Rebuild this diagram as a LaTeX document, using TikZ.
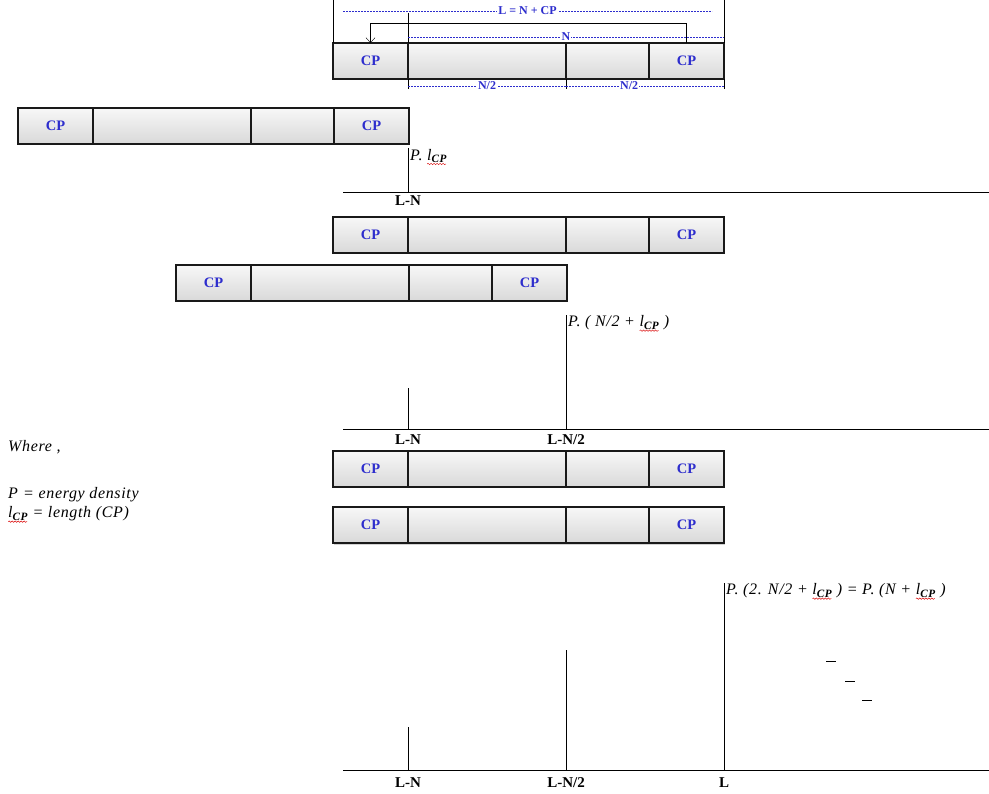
\documentclass[tikz,border=0pt]{standalone}
\usepackage{fontspec}
\setmainfont{Liberation Serif}
\usetikzlibrary{positioning,shadows,arrows.meta,decorations.pathmorphing}

\definecolor{cpblue}{RGB}{45,45,205}

% l_CP with the red wavy underline
\newcommand{\lcp}{\rlap{\tikz[overlay,baseline=0pt,x=1pt,y=1pt]\draw[squiggle] (0,-3.8) -- (19,-3.8);}\textit{l}\textsubscript{\bfseries\itshape CP}}

% one OFDM symbol: CP | N/2 part | rest | CP
\newcommand{\ofdmsym}[3]{%
  \node[cell, minimum width=75pt, anchor=north west] (#1a) at (#2,#3) {CP};
  \node[cell, minimum width=158pt, right=0pt of #1a] (#1b) {};
  \node[cell, minimum width=83pt, right=0pt of #1b] (#1c) {};
  \node[cell, minimum width=75pt, right=0pt of #1c] (#1d) {CP};
}

\tikzset{
  squiggle/.style={red!85!black, line width=0.45pt, decorate, decoration={snake, amplitude=0.7pt, segment length=3pt}},
  cell/.style={draw=black!90, line width=1.2pt, minimum height=36pt, inner sep=0pt, outer sep=0pt,
    top color=gray!6, bottom color=gray!30,
    drop shadow={shadow xshift=1pt, shadow yshift=-1.5pt, opacity=0.35},
    text=cpblue, font=\fontsize{14.5}{14.5}\selectfont\bfseries},
  axis/.style={line width=0.9pt},
  tick/.style={font=\fontsize{15}{15}\selectfont\bfseries, inner sep=1pt},
  power/.style={font=\fontsize{16}{16}\selectfont\itshape\addfontfeature{LetterSpace=4}, anchor=west, inner sep=1pt},
  dim/.style={cpblue, line width=0.8pt, dash pattern=on 2pt off 1pt},
  dimlabel/.style={text=cpblue, fill=white, inner sep=1pt, font=\fontsize{12}{12}\selectfont\bfseries},
  note/.style={font=\fontsize{16}{16}\selectfont\itshape\addfontfeature{LetterSpace=4}, anchor=west, inner sep=0pt}
}

\begin{document}
\begin{tikzpicture}[x=1pt, y=-1pt]
\useasboundingbox (0,0) rectangle (989,794);

\ofdmsym{s1}{333}{43}
% lengths above and below the first symbol
\draw (s1a.north west) -- ++(0,-43);
\draw (s1d.north east) -- ++(0,-43);
\draw (s1b.north west) -- ++(0,-30);
\draw[dim] ([shift={(10pt,32pt)}]s1a.north west) -- node[dimlabel]{L = N + CP} ([shift={(-12pt,32pt)}]s1d.north east);
\draw[dim] ([yshift=6pt]s1b.north west) -- node[dimlabel]{N} ([yshift=6pt]s1d.north east);
\draw[-{Straight Barb[length=5pt,width=9pt]}] (s1d.north) -- ++(0,-20) -| (s1a.north);
\foreach \c in {s1b.south west, s1c.south west, s1d.south east}
  \draw (\c) -- ++(0,10);
\draw[dim] ([yshift=-7pt]s1b.south west) -- node[dimlabel]{N/2} ([yshift=-7pt]s1c.south west);
\draw[dim] ([yshift=-7pt]s1c.south west) -- node[dimlabel, pos=0.4]{N/2} ([yshift=-7pt]s1d.south east);

\ofdmsym{s2}{18}{108}

% first window
\coordinate (o1) at (343,192);
\coordinate (e1) at (989,192);
\draw[axis] (o1) -- (e1);
\node[tick] (n1) at (408,201) {L-N};
\node[power] (p1) at (409,156) {P. \lcp};
\draw (n1 |- o1) -- (n1 |- p1.north);

\ofdmsym{s4}{333}{217}
\ofdmsym{s5}{176}{265}

% second window
\coordinate (o2) at (343,429);
\coordinate (e2) at (989,429);
\draw[axis] (o2) -- (e2);
\node[tick] (n21) at (408,440) {L-N};
\node[tick] (n22) at (566,440) {L-N/2};
\node[power] (p2) at (567,323) {P. ( N/2 + \lcp{} )};
\draw (n21 |- o2) -- ++(0,-41);
\draw (n22 |- o2) -- (n22 |- p2.north);

\ofdmsym{s6}{333}{451}
\ofdmsym{s7}{333}{507}

% third window
\coordinate (o3) at (343,770);
\coordinate (e3) at (989,770);
\draw[axis] (o3) -- (e3);
\node[tick] (n31) at (408,783) {L-N};
\node[tick] (n32) at (566,783) {L-N/2};
\node[tick] (n33) at (724,783) {L};
\node[power] (p3) at (725,591) {P. (2. N/2 + \lcp{} ) = P. (N + \lcp{} )};
\draw (n31 |- o3) -- ++(0,-43);
\draw (n32 |- o3) -- ++(0,-120);
\draw (n33 |- o3) -- (n33 |- p3.north);

\foreach \x/\y in {826/661, 845/681, 862/700}
  \draw[line width=0.9pt] (\x,\y) -- ++(10,0);

% legend
\node[note] (where) at (8,447) {Where ,};
\node[note] (pdef) at (8,495) {P\/ = energy density};
\node[note] (ldef) at (8,514) {\lcp{} = length (CP)};
\end{tikzpicture}
\end{document}
